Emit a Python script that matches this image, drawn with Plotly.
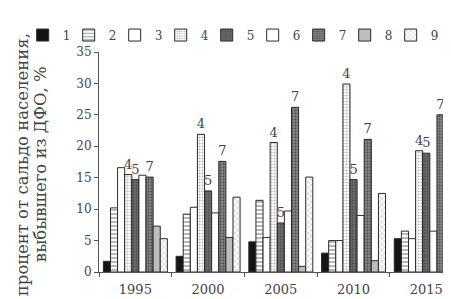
import plotly.graph_objects as go

years = ["1995", "2000", "2005", "2010", "2015"]
series_names = ["1", "2", "3", "4", "5", "6", "7", "8", "9"]
values = [
    [1.7, 2.5, 4.8, 3.0, 5.3],      # 1
    [10.2, 9.2, 11.4, 5.0, 6.5],    # 2
    [16.6, 10.3, 5.5, 5.0, 5.3],    # 3
    [15.5, 21.9, 20.6, 29.9, 19.3], # 4
    [14.7, 12.9, 7.8, 14.7, 18.9],  # 5
    [15.4, 9.4, 9.7, 9.0, 6.5],     # 6
    [15.1, 17.6, 26.2, 21.1, 25.0], # 7
    [7.3, 5.5, 0.9, 1.8, 2.2],      # 8
    [5.3, 11.9, 15.1, 12.5, 13.2],  # 9
]
labelled = {"4": "4", "5": "5", "7": "7"}
y_title_1 = "процент от сальдо населения,"
y_title_2 = "выбывшего из ДФО, %"

FONT = "DejaVu Serif"
TXT = "#444"
styles = [
    dict(color="#151515", pattern=dict(shape="")),
    dict(color="white", pattern=dict(shape="-", fgcolor="#333", size=4, solidity=0.35)),
    dict(color="white", pattern=dict(shape="")),
    dict(color="white", pattern=dict(shape=".", fgcolor="#777", size=3, solidity=0.4)),
    dict(color="#6a6a6a", pattern=dict(shape=".", fgcolor="#333", size=3, solidity=0.3)),
    dict(color="white", pattern=dict(shape="")),
    dict(color="#8a8a8a", pattern=dict(shape=".", fgcolor="#222", size=3, solidity=0.45)),
    dict(color="#bdbdbd", pattern=dict(shape="")),
    dict(color="white", pattern=dict(shape="x", fgcolor="#888", size=4, solidity=0.3)),
]

fig = go.Figure()
for i, (name, vals, st) in enumerate(zip(series_names, values, styles)):
    txt = [labelled[name]] * len(vals) if name in labelled else None
    fig.add_trace(go.Bar(
        name=name, x=years, y=vals,
        marker=dict(color=st["color"], pattern=st["pattern"],
                    line=dict(color="#2a2a2a", width=1)),
        text=txt, textposition="outside" if txt else "none",
        textfont=dict(family=FONT, size=13, color=TXT),
        constraintext="none", cliponaxis=False,
        legendwidth=10 if i == len(series_names) - 1 else 1,
    ))

fig.update_layout(
    width=451, height=299,
    margin=dict(l=91, r=0, t=44, b=35),
    paper_bgcolor="white", plot_bgcolor="white",
    barmode="group", bargap=0.12, bargroupgap=0,
    font=dict(family=FONT, size=12, color=TXT),
    showlegend=True,
    legend=dict(orientation="h", xref="paper", yref="paper",
                x=-0.212, xanchor="left", y=1.077, yanchor="middle",
                font=dict(family=FONT, size=12, color=TXT),
                itemwidth=30, entrywidth=1, tracegroupgap=0,
                bgcolor="rgba(0,0,0,0)"),
    xaxis=dict(range=[-0.5, 4.45], showline=True, linecolor="#555", linewidth=1,
               ticks="outside", tickson="boundaries", ticklen=4, tickcolor="#555",
               ticklabelstandoff=5, tickfont=dict(family=FONT, size=13, color=TXT),
               showgrid=False, zeroline=False, automargin=False),
    yaxis=dict(range=[0, 35], dtick=5, showline=True, linecolor="#555", linewidth=1,
               ticks="outside", ticklen=4, tickcolor="#555",
               tickfont=dict(family=FONT, size=12, color=TXT),
               showgrid=False, zeroline=False, automargin=False),
    annotations=[
        dict(text=y_title_1, textangle=-90, xref="paper", yref="paper",
             x=-0.214, y=0.49, xanchor="center", yanchor="middle", showarrow=False,
             font=dict(family=FONT, size=16.5, color=TXT)),
        dict(text=y_title_2, textangle=-90, xref="paper", yref="paper",
             x=-0.164, y=0.49, xanchor="center", yanchor="middle", showarrow=False,
             font=dict(family=FONT, size=16.5, color=TXT)),
    ],
)

fig.write_html("out.html")
